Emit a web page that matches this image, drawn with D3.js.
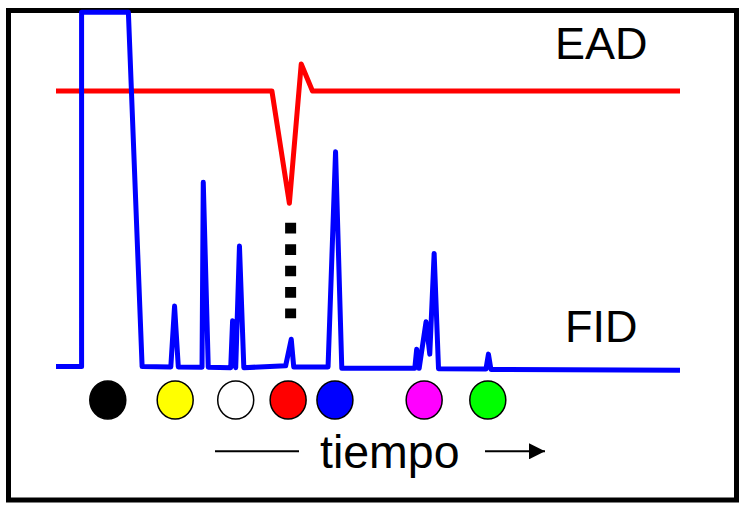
<!DOCTYPE html>
<html>
<head>
<meta charset="utf-8">
<script src="https://cdn.jsdelivr.net/npm/d3@7"></script>
<style>
  html, body { margin: 0; padding: 0; background: #fff; }
  svg { display: block; font-family: "Liberation Sans", Arial, sans-serif; }
</style>
</head>
<body>
<svg id="chart" width="741" height="505"></svg>
<script>
// ---- data ----
const fidTime   = [0, 4.1, 4.1, 11.6, 13.8, 18.4, 19.0, 19.6, 23.4, 23.6, 24.4, 28.0, 28.3, 28.8, 29.4, 30.1, 36.8, 37.7, 38.1, 43.6, 44.8, 45.8, 57.5, 57.8, 58.2, 59.3, 59.9, 60.6, 61.3, 68.9, 69.3, 69.7, 100];
const fidSignal = [0.4, 0.4, 100, 100, 0.4, 0.3, 17.4, 0.3, 0.2, 52.2, 0.2, 0.1, 13.3, 0.1, 34.3, 0.1, 0.6, 8.1, 0.3, 0.3, 60.8, -0.1, -0.1, 5.3, -0.1, 13.0, 3.9, 32.2, -0.2, -0.3, 3.9, -0.4, -0.6];

const eadTime   = [0, 34.6, 37.4, 39.3, 41.1, 100];
const eadSignal = [0, 0, -1.0, 0.24, 0, 0];

const compoundTime   = [8.3, 19.1, 28.8, 37.2, 44.7, 59.0, 69.2];
const compoundColors = ["#000000", "#ffff00", "#ffffff", "#ff0000", "#0000ff", "#ff00ff", "#00ff00"];

const activeTime = 37.6;          // EAD-active compound
const activeRange = [14.0, 40.8]; // dotted marker extent in FID units

const labels = { ead: "EAD", fid: "FID", axis: "tiempo" };

// ---- scales ----
const svg = d3.select("#chart");
const x = d3.scaleLinear().domain([0, 100]).range([56, 680]);
const yFid = d3.scaleLinear().domain([0, 100]).range([368, 12.3]);
const yEad = d3.scaleLinear().domain([-1, 0]).range([203.3, 91]);

// frame
svg.append("rect")
  .attr("x", 8.5).attr("y", 10.5)
  .attr("width", 728).attr("height", 489.5)
  .attr("fill", "#fff").attr("stroke", "#000").attr("stroke-width", 5);

// EAD trace
const eadData = eadTime.map((t, i) => [t, eadSignal[i]]);
svg.append("path")
  .datum(eadData)
  .attr("d", d3.line().x(d => x(d[0])).y(d => yEad(d[1])))
  .attr("fill", "none").attr("stroke", "#ff0000")
  .attr("stroke-width", 5).attr("stroke-linejoin", "round");

// dotted marker
svg.append("line")
  .attr("x1", x(activeTime)).attr("x2", x(activeTime))
  .attr("y1", yFid(activeRange[1])).attr("y2", yFid(activeRange[0]))
  .attr("stroke", "#000").attr("stroke-width", 11)
  .attr("stroke-dasharray", "10.7,10.7");

// FID trace
const fidData = fidTime.map((t, i) => [t, fidSignal[i]]);
svg.append("path")
  .datum(fidData)
  .attr("d", d3.line().x(d => x(d[0])).y(d => yFid(d[1])))
  .attr("fill", "none").attr("stroke", "#0000ff")
  .attr("stroke-width", 5).attr("stroke-linejoin", "round");

// labels
svg.append("text").attr("x", 555).attr("y", 59)
  .attr("font-size", 45).attr("fill", "#000").text(labels.ead);
svg.append("text").attr("x", 565).attr("y", 342)
  .attr("font-size", 45).attr("fill", "#000").text(labels.fid);

// compound circles
svg.selectAll("ellipse.cmp")
  .data(compoundTime.map((t, i) => ({ t, c: compoundColors[i] })))
  .join("ellipse")
  .attr("class", "cmp")
  .attr("cx", d => x(d.t)).attr("cy", 400)
  .attr("rx", 18).attr("ry", 19)
  .attr("fill", d => d.c)
  .attr("stroke", "#000").attr("stroke-width", 1.5);

// time axis annotation
svg.append("defs").append("marker")
  .attr("id", "arrow").attr("viewBox", "0 0 10 10")
  .attr("refX", 10).attr("refY", 5)
  .attr("markerWidth", 8).attr("markerHeight", 8)
  .attr("markerUnits", "strokeWidth")
  .attr("orient", "auto")
  .append("path").attr("d", "M0,0 L10,5 L0,10 Z").attr("fill", "#000");

svg.append("line")
  .attr("x1", 215).attr("x2", 299).attr("y1", 451.3).attr("y2", 451.3)
  .attr("stroke", "#000").attr("stroke-width", 2);
svg.append("line")
  .attr("x1", 485).attr("x2", 545).attr("y1", 451.3).attr("y2", 451.3)
  .attr("stroke", "#000").attr("stroke-width", 2)
  .attr("marker-end", "url(#arrow)");
svg.append("text").attr("x", 320).attr("y", 468)
  .attr("font-size", 46.5).attr("fill", "#000").text(labels.axis);
</script>
</body>
</html>
